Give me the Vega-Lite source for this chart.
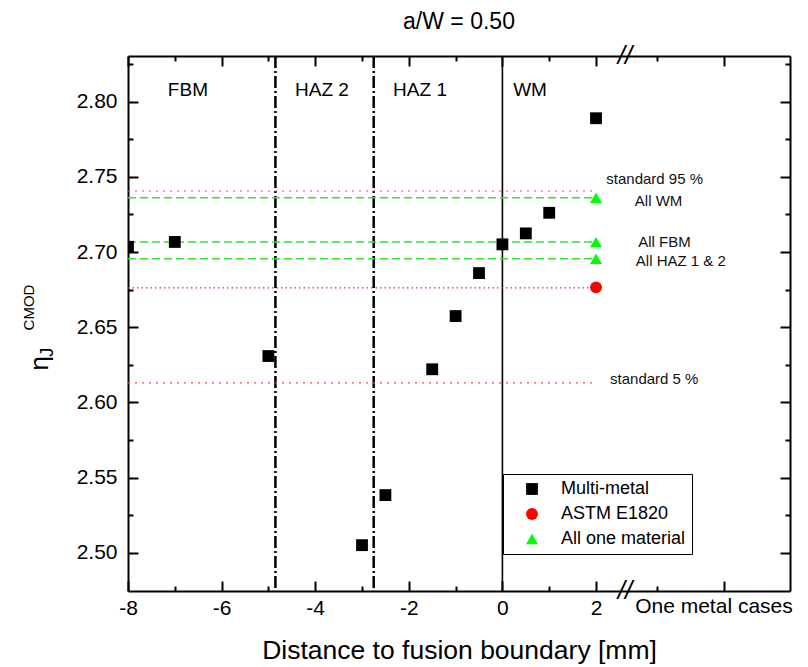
{
  "$schema": "https://vega.github.io/schema/vega-lite/v6.json",
  "width": 662,
  "height": 535,
  "autosize": "none",
  "padding": {"left": 128, "top": 56, "right": 18, "bottom": 76},
  "title": {"text": "a/W = 0.50", "fontSize": 23, "font": "Liberation Sans", "fontWeight": "normal", "color": "black", "offset": 9, "anchor": "middle"},
  "config": {
    "view": {"stroke": null},
    "font": "Liberation Sans",
    "axis": {"grid": false, "domainColor": "black", "domainWidth": 2, "tickColor": "black", "tickWidth": 2, "labelColor": "black", "labelFont": "Liberation Sans", "titleFont": "Liberation Sans", "labelOverlap": false, "labelFlush": false}
  },
  "datasets": {
    "points": [
      {"series": "Multi-metal", "x": -8, "y": 2.7035},
      {"series": "Multi-metal", "x": -7, "y": 2.7067},
      {"series": "Multi-metal", "x": -5, "y": 2.6308},
      {"series": "Multi-metal", "x": -3, "y": 2.505},
      {"series": "Multi-metal", "x": -2.5, "y": 2.5383},
      {"series": "Multi-metal", "x": -1.5, "y": 2.622},
      {"series": "Multi-metal", "x": -1, "y": 2.6574},
      {"series": "Multi-metal", "x": -0.5, "y": 2.686},
      {"series": "Multi-metal", "x": 0, "y": 2.7051},
      {"series": "Multi-metal", "x": 0.5, "y": 2.7124},
      {"series": "Multi-metal", "x": 1, "y": 2.7261},
      {"series": "Multi-metal", "x": 2, "y": 2.789},
      {"series": "ASTM E1820", "x": 2, "y": 2.6765},
      {"series": "All one material", "x": 2, "y": 2.7361},
      {"series": "All one material", "x": 2, "y": 2.7066},
      {"series": "All one material", "x": 2, "y": 2.6955}
    ],
    "hlines": [
      {"name": "standard 95 %", "kind": "standard", "y": 2.7406},
      {"name": "All WM", "kind": "material", "y": 2.7361},
      {"name": "All FBM", "kind": "material", "y": 2.7066},
      {"name": "All HAZ 1 & 2", "kind": "material", "y": 2.6955},
      {"name": "ASTM E1820", "kind": "astm", "y": 2.6762},
      {"name": "standard 5 %", "kind": "standard", "y": 2.613}
    ],
    "vlines": [
      {"name": "FBM | HAZ 2", "kind": "dashdot", "x": -4.85},
      {"name": "HAZ 2 | HAZ 1", "kind": "dashdot", "x": -2.75},
      {"name": "fusion boundary", "kind": "solid", "x": 0}
    ],
    "regions": [
      {"text": "FBM", "x": -6.72, "y": 2.8078},
      {"text": "HAZ 2", "x": -3.855, "y": 2.8078},
      {"text": "HAZ 1", "x": -1.76, "y": 2.8078},
      {"text": "WM", "x": 0.59, "y": 2.8078}
    ],
    "side": [
      {"text": "standard 95 %", "x": 2.22, "y": 2.7486},
      {"text": "All WM", "x": 2.83, "y": 2.7339},
      {"text": "All FBM", "x": 2.9, "y": 2.7069},
      {"text": "All HAZ 1 & 2", "x": 2.85, "y": 2.6942},
      {"text": "standard 5 %", "x": 2.3, "y": 2.6153}
    ],
    "breaks": [
      {"text": "//", "x": 2.62, "y": 2.8304},
      {"text": "//", "x": 2.62, "y": 2.4745}
    ],
    "extra": [
      {"text": "One metal cases", "x": 4.52, "y": 2.4639}
    ],
    "ytitle": [
      {"part": "eta", "text": "η", "x": -9.88, "y": 2.626},
      {"part": "sub", "text": "J", "x": -9.72, "y": 2.6333},
      {"part": "sup", "text": "CMOD", "x": -10.115, "y": 2.6631}
    ]
  },
  "layer": [
    {
      "data": {"name": "vlines"},
      "transform": [{"filter": "datum.kind == 'dashdot'"}],
      "mark": {"type": "rule", "color": "black", "strokeWidth": 2.5, "strokeDash": [12, 3, 2, 3]},
      "encoding": {
        "x": {"field": "x", "type": "quantitative", "scale": {"domain": [-8, 6.145], "nice": false, "zero": false}, "axis": null}
      }
    },
    {
      "data": {"name": "vlines"},
      "transform": [{"filter": "datum.kind == 'solid'"}],
      "mark": {"type": "rule", "color": "black", "strokeWidth": 1.6},
      "encoding": {
        "x": {"field": "x", "type": "quantitative", "scale": {"domain": [-8, 6.145], "nice": false, "zero": false}, "axis": null}
      }
    },
    {
      "data": {"name": "hlines"},
      "transform": [{"filter": "datum.kind == 'standard'"}],
      "mark": {"type": "rule", "color": "#f04848", "strokeWidth": 1.2, "strokeDash": [2, 5]},
      "encoding": {
        "x": {"datum": -8, "type": "quantitative", "scale": {"domain": [-8, 6.145], "nice": false, "zero": false}, "axis": null},
        "x2": {"datum": 2},
        "y": {"field": "y", "type": "quantitative", "scale": {"domain": [2.4745, 2.8304], "nice": false, "zero": false}, "axis": null}
      }
    },
    {
      "data": {"name": "hlines"},
      "transform": [{"filter": "datum.kind == 'astm'"}],
      "mark": {"type": "rule", "color": "#b84040", "strokeWidth": 1.2, "strokeDash": [1.5, 3]},
      "encoding": {
        "x": {"datum": -8, "type": "quantitative", "scale": {"domain": [-8, 6.145], "nice": false, "zero": false}, "axis": null},
        "x2": {"datum": 2},
        "y": {"field": "y", "type": "quantitative", "scale": {"domain": [2.4745, 2.8304], "nice": false, "zero": false}, "axis": null}
      }
    },
    {
      "data": {"name": "hlines"},
      "transform": [{"filter": "datum.kind == 'material'"}],
      "mark": {"type": "rule", "color": "#33e833", "strokeWidth": 1.5, "strokeDash": [8, 4]},
      "encoding": {
        "x": {"datum": -8, "type": "quantitative", "scale": {"domain": [-8, 6.145], "nice": false, "zero": false}, "axis": null},
        "x2": {"datum": 2},
        "y": {"field": "y", "type": "quantitative", "scale": {"domain": [2.4745, 2.8304], "nice": false, "zero": false}, "axis": null}
      }
    },
    {
      "data": {"name": "points"},
      "mark": {"type": "point", "filled": true, "opacity": 1, "clip": true},
      "encoding": {
        "x": {"field": "x", "type": "quantitative", "scale": {"domain": [-8, 6.145], "nice": false, "zero": false},
          "axis": {"orient": "bottom", "values": [-8, -7, -6, -5, -4, -3, -2, -1, 0, 1, 2, 3.3, 4.74],
            "labelExpr": "datum.value <= 2 && abs(datum.value % 2) < 0.01 ? '' + datum.value : ''",
            "tickSize": {"condition": {"test": "abs(datum.value % 2) < 0.01 || datum.value > 4", "value": -10}, "value": -5},
            "labelFontSize": 21, "labelPadding": 16,
            "title": "Distance to fusion boundary [mm]", "titleFontSize": 26.5, "titleFontWeight": "normal", "titleColor": "black", "titlePadding": 14}},
        "y": {"field": "y", "type": "quantitative", "scale": {"domain": [2.4745, 2.8304], "nice": false, "zero": false},
          "axis": {"orient": "left", "values": [2.5, 2.525, 2.55, 2.575, 2.6, 2.625, 2.65, 2.675, 2.7, 2.725, 2.75, 2.775, 2.8, 2.825],
            "labelExpr": "round(datum.value * 1000) % 50 == 0 ? format(datum.value, '.2f') : ''",
            "tickSize": {"condition": {"test": "round(datum.value * 1000) % 50 == 0", "value": -10}, "value": -5},
            "labelFontSize": 21, "labelPadding": 21, "title": null}},
        "shape": {"field": "series", "type": "nominal",
          "scale": {"domain": ["Multi-metal", "ASTM E1820", "All one material"], "range": ["square", "circle", "triangle-up"]},
          "legend": {"title": null, "orient": "none", "legendX": 375, "legendY": 418, "strokeColor": "black", "fillColor": "white", "padding": 6, "labelFontSize": 18, "labelColor": "black", "symbolSize": 150, "rowPadding": 7, "labelOffset": 20, "symbolOffset": 14}},
        "color": {"field": "series", "type": "nominal",
          "scale": {"domain": ["Multi-metal", "ASTM E1820", "All one material"], "range": ["#000000", "#ff0000", "#00ff00"]},
          "legend": {"title": null, "orient": "none", "legendX": 375, "legendY": 418, "strokeColor": "black", "fillColor": "white", "padding": 6, "labelFontSize": 18, "labelColor": "black", "symbolSize": 150, "rowPadding": 7, "labelOffset": 20, "symbolOffset": 14}},
        "size": {"field": "series", "type": "nominal",
          "scale": {"domain": ["Multi-metal", "ASTM E1820", "All one material"], "range": [140, 144, 250]}, "legend": null}
      }
    },
    {
      "data": {"name": "regions"},
      "mark": {"type": "text", "fontSize": 19, "color": "black", "align": "center", "baseline": "middle"},
      "encoding": {
        "x": {"field": "x", "type": "quantitative", "scale": {"domain": [-8, 6.145], "nice": false, "zero": false}, "axis": null},
        "y": {"field": "y", "type": "quantitative", "scale": {"domain": [2.4745, 2.8304], "nice": false, "zero": false}, "axis": null},
        "text": {"field": "text"}
      }
    },
    {
      "data": {"name": "side"},
      "mark": {"type": "text", "fontSize": 15, "color": "#111111", "align": "left", "baseline": "middle"},
      "encoding": {
        "x": {"field": "x", "type": "quantitative", "scale": {"domain": [-8, 6.145], "nice": false, "zero": false},
          "axis": {"orient": "top", "labels": false, "title": null, "values": [-8, -7, -6, -5, -4, -3, -2, -1, 0, 1, 2, 3.3, 4.74],
            "tickSize": {"condition": {"test": "abs(datum.value % 2) < 0.01 || datum.value > 4", "value": -10}, "value": -5}}},
        "y": {"field": "y", "type": "quantitative", "scale": {"domain": [2.4745, 2.8304], "nice": false, "zero": false},
          "axis": {"orient": "right", "labels": false, "title": null, "values": [2.5, 2.525, 2.55, 2.575, 2.6, 2.625, 2.65, 2.675, 2.7, 2.725, 2.75, 2.775, 2.8, 2.825],
            "tickSize": {"condition": {"test": "round(datum.value * 1000) % 50 == 0", "value": -10}, "value": -5}}},
        "text": {"field": "text"}
      }
    },
    {
      "data": {"name": "breaks"},
      "mark": {"type": "text", "fontSize": 26, "fontStyle": "italic", "color": "black", "align": "center", "baseline": "middle"},
      "encoding": {
        "x": {"field": "x", "type": "quantitative", "scale": {"domain": [-8, 6.145], "nice": false, "zero": false}, "axis": null},
        "y": {"field": "y", "type": "quantitative", "scale": {"domain": [2.4745, 2.8304], "nice": false, "zero": false}, "axis": null},
        "text": {"field": "text"}
      }
    },
    {
      "data": {"name": "extra"},
      "mark": {"type": "text", "fontSize": 21, "color": "black", "align": "center", "baseline": "middle"},
      "encoding": {
        "x": {"field": "x", "type": "quantitative", "scale": {"domain": [-8, 6.145], "nice": false, "zero": false}, "axis": null},
        "y": {"field": "y", "type": "quantitative", "scale": {"domain": [2.4745, 2.8304], "nice": false, "zero": false}, "axis": null},
        "text": {"field": "text"}
      }
    },
    {
      "data": {"name": "ytitle"},
      "transform": [{"filter": "datum.part == 'eta'"}],
      "mark": {"type": "text", "fontSize": 26, "color": "black", "align": "center", "baseline": "middle", "angle": 270},
      "encoding": {
        "x": {"field": "x", "type": "quantitative", "scale": {"domain": [-8, 6.145], "nice": false, "zero": false}, "axis": null},
        "y": {"field": "y", "type": "quantitative", "scale": {"domain": [2.4745, 2.8304], "nice": false, "zero": false}, "axis": null},
        "text": {"field": "text"}
      }
    },
    {
      "data": {"name": "ytitle"},
      "transform": [{"filter": "datum.part == 'sub'"}],
      "mark": {"type": "text", "fontSize": 18, "color": "black", "align": "center", "baseline": "middle", "angle": 270},
      "encoding": {
        "x": {"field": "x", "type": "quantitative", "scale": {"domain": [-8, 6.145], "nice": false, "zero": false}, "axis": null},
        "y": {"field": "y", "type": "quantitative", "scale": {"domain": [2.4745, 2.8304], "nice": false, "zero": false}, "axis": null},
        "text": {"field": "text"}
      }
    },
    {
      "data": {"name": "ytitle"},
      "transform": [{"filter": "datum.part == 'sup'"}],
      "mark": {"type": "text", "fontSize": 15, "color": "black", "align": "center", "baseline": "middle", "angle": 270},
      "encoding": {
        "x": {"field": "x", "type": "quantitative", "scale": {"domain": [-8, 6.145], "nice": false, "zero": false}, "axis": null},
        "y": {"field": "y", "type": "quantitative", "scale": {"domain": [2.4745, 2.8304], "nice": false, "zero": false}, "axis": null},
        "text": {"field": "text"}
      }
    }
  ],
  "resolve": {"axis": {"x": "independent", "y": "independent"}}
}
